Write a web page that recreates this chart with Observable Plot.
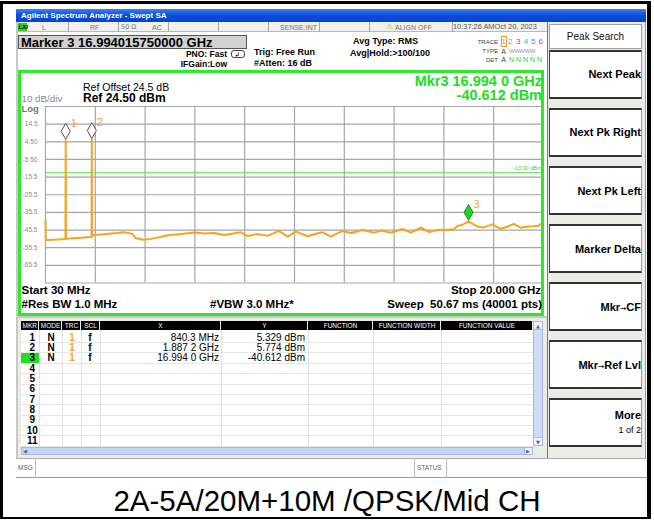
<!DOCTYPE html>
<html><head><meta charset="utf-8">
<script src="https://cdn.jsdelivr.net/npm/d3@7"></script>
<script src="https://cdn.jsdelivr.net/npm/@observablehq/plot@0.6"></script>
<style>
html,body{margin:0;padding:0;background:#fff;}
#page{position:relative;width:654px;height:520px;overflow:hidden;background:#fff;font-family:"Liberation Sans",Arial,Helvetica,sans-serif;color:#000;}
.b{position:absolute;box-sizing:border-box;}
.t{position:absolute;white-space:nowrap;line-height:1;}
#plot{position:absolute;left:18px;top:70px;}
</style></head><body><div id="page"></div>
<script>
// ---------------- data ----------------
const traceFreqGHz = [0.03,0.04,0.12,0.3,0.5,0.7,0.83,0.8403,0.85,1.0,
  1.2,1.45,1.7,1.88,1.8872,1.895,1.99,2.27,2.67,2.9,
  3.14,3.35,3.54,3.6,3.67,3.94,4.27,4.6,4.94,5.47,
  6.0,6.39,6.79,7.19,7.5,7.87,8.14,8.51,8.94,9.39,
  9.74,10.07,10.54,10.87,11.14,11.47,11.94,12.28,12.74,13.21,
  13.48,13.88,14.34,14.68,15.08,15.41,15.75,16.12,16.41,16.55,
  16.76,16.994,17.16,17.35,17.6,17.95,18.28,18.56,18.81,19.08,
  19.36,19.61,19.8,19.95,20.0];
const traceLevelDbm = [-40,-51,-51.2,-51.0,-50.9,-50.7,-50.6,5.329,-50.4,-50.3,
  -50.1,-49.9,-49.6,-49.4,5.774,-48.6,-48.3,-48.0,-47.5,-47.2,
  -46.8,-47.2,-47.8,-49.5,-50.2,-51.0,-50.5,-49.5,-48.5,-47.8,
  -46.9,-47.5,-47.2,-48.3,-47.6,-46.8,-48.9,-47.8,-48.8,-46.0,
  -49.2,-46.4,-49.0,-47.6,-46.8,-49.2,-46.0,-47.2,-45.5,-47.0,
  -45.8,-47.0,-44.9,-47.0,-44.2,-46.6,-45.5,-45.4,-45.0,-43.2,
  -42.5,-40.612,-42.0,-43.5,-44.0,-42.3,-44.9,-43.5,-42.0,-44.2,
  -43.5,-43.4,-43.0,-41.5,-41.6];
const markerIds = [1,2,3];
const markerFreqGHz = [0.8403,1.8872,16.994];
const markerLevelDbm = [5.329,5.774,-40.612];
const markerXText = ["840.3 MHz","1.887 2 GHz","16.994 0 GHz"];
const markerYText = ["5.329 dBm","5.774 dBm","-40.612 dBm"];
const activeMarker = 3;
const refLevelDbm = 24.5, dbPerDiv = 10, divisions = 10;
const startGHz = 0.03, stopGHz = 20;
const limitDbm = -13, limitText = "-13.00 dBm";
const yTickLabels = ["14.5","4.50","-5.50","-15.5","-25.5","-35.5","-45.5","-55.5","-65.5"];
const softkeys = ["Next Peak","Next Pk Right","Next Pk Left","Marker Delta","Mkr→CF","Mkr→Ref Lvl","More"];
const tableColumns = ["MKR","MODE","TRC","SCL","X","Y","FUNCTION","FUNCTION WIDTH","FUNCTION VALUE"];
const tableRows = 11;
const caption = "2A-5A/20M+10M /QPSK/Mid CH";

// ---------------- helpers ----------------
const page = document.getElementById("page");
function box(x,y,w,h,style){const d=document.createElement("div");d.className="b";Object.assign(d.style,{left:x+"px",top:y+"px",width:w+"px",height:h+"px"},style||{});page.appendChild(d);return d;}
function txt(s,x,yc,o={}){const d=document.createElement("div");d.className="t";d.textContent=s;
  Object.assign(d.style,{left:x+"px",top:yc+"px",fontSize:(o.size||10)+"px",fontWeight:o.bold?"bold":"normal",color:o.color||"#000"});
  const tx=o.align==="right"?"-100%":o.align==="center"?"-50%":"0";d.style.transform=`translate(${tx},-50%)`;
  if(o.style)Object.assign(d.style,o.style);page.appendChild(d);return d;}

// outer frame
box(0,1,651,518,{borderTop:"3px solid #000",borderLeft:"3px solid #000",borderRight:"4px solid #000",borderBottom:"2px solid #000"});
// title bar
box(16,9,630,13,{background:"linear-gradient(#3d82f5,#0b4fdc 45%,#0743c9)"});
txt("Agilent Spectrum Analyzer - Swept SA",21,15.5,{size:8,bold:true,color:"#fff"});
// status row
box(16,22,531,10,{background:"#f1f0ec",borderBottom:"1px solid #b8b8b8"});
box(18,23,9,8,{background:"#2fcf2f"});
txt("LXI",18.5,27,{size:6,bold:true,color:"#000",style:{fontStyle:"italic"}});
[68,118,168,218,268,319,369,452].forEach(x=>box(x,22,1,10,{background:"#a8a8a8"}));
const sc="#707070";
txt("L",42,27,{size:7,color:sc});txt("RF",90,27,{size:7,color:sc});
txt("50 Ω",121,27,{size:7,color:sc,style:{fontFamily:"'DejaVu Sans',sans-serif",fontSize:"6.5px"}});
txt("AC",152,27,{size:7,color:sc});
txt("SENSE:INT",317,27,{size:7,color:sc,align:"right"});
txt("⚠",386,27,{size:8,color:"#e0b800",style:{fontFamily:"'DejaVu Sans',sans-serif"}});txt("ALIGN OFF",395,27,{size:7,color:sc});
txt("10:37:26 AMOct 20, 2023",453,27,{size:7.4,color:"#555"});
// marker readout
box(18,35,229,14,{background:"#d2d2d2",border:"1px solid #555"});
txt("Marker 3 16.994015750000 GHz",21,42,{size:13,bold:true});
txt("PNO: Fast",227,54,{size:8.5,bold:true,align:"right"});
box(231,50,14,8,{border:"1px solid #444",borderRadius:"3px"});
txt("↲",234.5,54.5,{size:6.5,style:{fontFamily:"'DejaVu Sans',sans-serif"}});
txt("IFGain:Low",227,63.5,{size:8.5,bold:true,align:"right"});
txt("Trig: Free Run",254,52,{size:9,bold:true});
txt("#Atten: 16 dB",254,63,{size:9,bold:true});
txt("Avg Type: RMS",353,41,{size:9,bold:true});
txt("Avg|Hold:>100/100",350,52.5,{size:9,bold:true});
// trace table
txt("TRACE",498,41.5,{size:6,color:"#444",align:"right"});
txt("TYPE",498,50.5,{size:6,color:"#444",align:"right"});
txt("DET",498,59.5,{size:6,color:"#444",align:"right"});
box(500.5,36,6.5,11,{border:"1px solid #f0a020"});
const trColors=["#f0a020","#19c4f0","#e020e0","#18c8a0","#4a80ff","#9a4cff"];
[503.7,510,518.3,526,533.3,540.7].forEach((x,i)=>txt(String(i+1),x,41.7,{size:8,color:trColors[i],align:"center"}));
txt("A",503.7,50.5,{size:7,color:"#444",align:"center"});txt("WWWWW",509,50.5,{size:6,color:"#999",style:{letterSpacing:"-0.5px"}});
txt("A",503.7,59.3,{size:7,color:"#444",align:"center"});txt("N N N N N",509,59.3,{size:7,color:"#1fd41f"});

// softkey panel
box(547,22,99,436,{background:"#ecebe7",borderLeft:"1px solid #777",borderRight:"1px solid #999"});
box(549,24,93,25,{background:"#fff",border:"1px solid #a0a0a0"});
txt("Peak Search",595.5,36.7,{size:10,align:"center",color:"#111"});
const keyTops=[49.5,107.5,166,224,282,340,398];
softkeys.forEach((k,i)=>{
  const y=keyTops[i];
  box(549,y,93,49,{background:"#fff",borderTop:"2px solid #333",borderBottom:"2px solid #333",borderLeft:"1px solid #444",borderRight:"1px solid #999"});
  if(k==="More"){txt(k,641,y+17,{size:11,bold:true,align:"right"});txt("1 of 2",641,y+32,{size:9,align:"right"});}
  else if(k.includes("→")){const [a,b]=k.split("→");const d=txt("",641,y+24.5,{size:11,bold:true,align:"right"});
    d.innerHTML=`${a}<span style="font-family:'DejaVu Sans',sans-serif;font-size:7.5px;font-weight:normal">→</span>${b}`;}
  else txt(k,641,y+24.5,{size:11,bold:true,align:"right"});
});

// window left edge
box(16,22,2,436,{background:"#c8c8c8"});

// ---------------- chart ----------------
const trace = traceFreqGHz.map((f,i)=>({f,p:traceLevelDbm[i]}));
const markers = markerIds.map((n,i)=>({n,f:markerFreqGHz[i],p:markerLevelDbm[i]}));
const yGrid = d3.range(divisions+1).map(i=>refLevelDbm-i*dbPerDiv);
const xGrid = d3.range(divisions+1).map(i=>startGHz+i*(stopGHz-startGHz)/divisions);
const yTicks = yGrid.slice(1,divisions);
const yLabel = new Map(yTicks.map((v,i)=>[v,yTickLabels[i]]));
const orange="#f8a31c";
const chart = Plot.plot({
  width:526,height:246,
  marginLeft:27,marginRight:1,marginTop:36,marginBottom:33.5,
  style:{background:"transparent",fontFamily:"Liberation Sans, Arial, sans-serif",overflow:"visible"},
  x:{domain:[startGHz,stopGHz],axis:null,label:null},
  y:{domain:[refLevelDbm-divisions*dbPerDiv,refLevelDbm],axis:null,label:null},
  marks:[
    Plot.ruleX(xGrid,{stroke:"#a6a6a6",strokeWidth:1.2}),
    Plot.ruleY(yGrid,{stroke:"#a6a6a6",strokeWidth:1.2}),
    Plot.axisY(yTicks,{tickSize:0,tickPadding:8,fontSize:6.5,fill:"#8a8a8a",label:null,tickFormat:d=>yLabel.get(d)}),
    Plot.ruleY([limitDbm],{stroke:"#55e055",strokeWidth:1}),
    Plot.text([limitText],{x:stopGHz,y:limitDbm,text:d=>d,textAnchor:"end",dx:-2,dy:-4,fontSize:5.5,fill:"#3ccc3c"}),
    Plot.line(trace,{x:"f",y:"p",stroke:orange,strokeWidth:2}),
    Plot.dot(markers,{filter:d=>d.n!==activeMarker,x:"f",y:"p",symbol:"diamond",r:4.8,dy:-9,fill:"#fff",stroke:"#555",strokeWidth:1}),
    Plot.dot(markers,{filter:d=>d.n===activeMarker,x:"f",y:"p",symbol:"diamond",r:4.8,dy:-9,fill:"#1ed81e",stroke:"#226622",strokeWidth:0.8}),
    Plot.text(markers,{x:"f",y:"p",text:d=>String(d.n),dx:8,dy:-17,fill:orange,fontSize:11,textAnchor:"middle"})
  ]
});
chart.id="plot";
page.appendChild(chart);

// green frame + annotations
box(18,70,526,246,{border:"3px solid #2ee82e"});
txt("Ref Offset 24.5 dB",83,86.7,{size:10.5});
txt("Ref 24.50 dBm",83,98.3,{size:12,bold:true});
txt("10 dB/div",21.5,98.5,{size:9.8,color:"#8a8a8a"});
txt("Log",21.5,108.5,{size:9.5,bold:true,color:"#777"});
txt("Mkr3 16.994 0 GHz",542,80.6,{size:14.5,bold:true,color:"#22dd22",align:"right"});
txt("-40.612 dBm",542,95.4,{size:14.5,bold:true,color:"#22dd22",align:"right"});
txt("Start 30 MHz",21.5,290.5,{size:11.5,bold:true});
txt("#Res BW 1.0 MHz",21.5,305,{size:11.5,bold:true});
txt("#VBW 3.0 MHz*",210,305,{size:11.5,bold:true});
txt("Stop 20.000 GHz",541,290.5,{size:11.5,bold:true,align:"right"});
txt("Sweep  50.67 ms (40001 pts)",542,305,{size:11.5,bold:true,align:"right",style:{whiteSpace:"pre"}});

// marker table
box(18,316,529,142,{background:"#ecebe4",borderTop:"2px solid #c8c8c8"});
const colEdges=[20.5,39,62,81,100,221,308,373,441,533];
box(20.5,330,512.5,116,{background:"#fff"});
for(let i=0;i<tableColumns.length;i++){
  const x0=colEdges[i],x1=colEdges[i+1];
  box(x0,321,x1-x0-1,9,{background:"#000"});
  txt(tableColumns[i],(x0+x1)/2,325.7,{size:6.5,color:"#fff",align:"center"});
  if(i>0) box(x0-0.5,330,1,116,{background:"#e2e2e2"});
}
const rowTop=331.7,rowH=10.36;
for(let r=0;r<tableRows;r++){
  box(20.5,rowTop+(r+1)*rowH,512.5,1,{background:"#e6e6e6"});
  const yc=rowTop+r*rowH+5.9;
  if(r+1===activeMarker) box(21,rowTop+r*rowH+0.8,17.5,9.6,{background:"#22dd22"});
  txt(String(r+1),32.3,yc,{size:10,bold:true,align:"center"});
  if(r<markerIds.length){
    txt("N",51,yc,{size:10,bold:true,align:"center"});
    txt("1",72,yc,{size:10,bold:true,color:orange,align:"center"});
    txt("f",90,yc,{size:10,bold:true,align:"center"});
    txt(markerXText[r],219,yc,{size:10,align:"right"});
    txt(markerYText[r],305,yc,{size:10,align:"right"});
  }
}
// scrollbars
box(533,321,10,125,{background:"#cfdcf7",border:"1px solid #a8b8d8"});
box(533,321,10,9,{background:"#eef2fb",border:"1px solid #a8b8d8"});
txt("▲",538,325.5,{size:5,color:"#4060a0",align:"center",style:{fontFamily:"'DejaVu Sans',sans-serif"}});
box(533,437,10,9,{background:"#eef2fb",border:"1px solid #a8b8d8"});
txt("▼",538,441.5,{size:5,color:"#4060a0",align:"center",style:{fontFamily:"'DejaVu Sans',sans-serif"}});
box(20.5,447,512.5,8,{background:"#c4d4f4",border:"1px solid #a8b8d8"});
txt("◀",23,451,{size:5,color:"#4060a0",style:{fontFamily:"'DejaVu Sans',sans-serif"}});
box(524,447,9,8,{background:"#eef2fb",border:"1px solid #a8b8d8"});
txt("▶",526,451,{size:5,color:"#4060a0",style:{fontFamily:"'DejaVu Sans',sans-serif"}});

// message bar
box(16,458,631,20,{background:"#fff",borderTop:"1px solid #aaa",borderBottom:"1px solid #999"});
box(35,458,1,20,{background:"#bbb"});box(414,458,1,20,{background:"#bbb"});box(446,458,1,20,{background:"#bbb"});
txt("MSG",18,468,{size:6.5,color:"#666"});
txt("STATUS",417,468,{size:6.5,color:"#666"});

// caption
txt(caption,327,501,{size:29.5,align:"center",color:"#000"});
</script></body></html>
